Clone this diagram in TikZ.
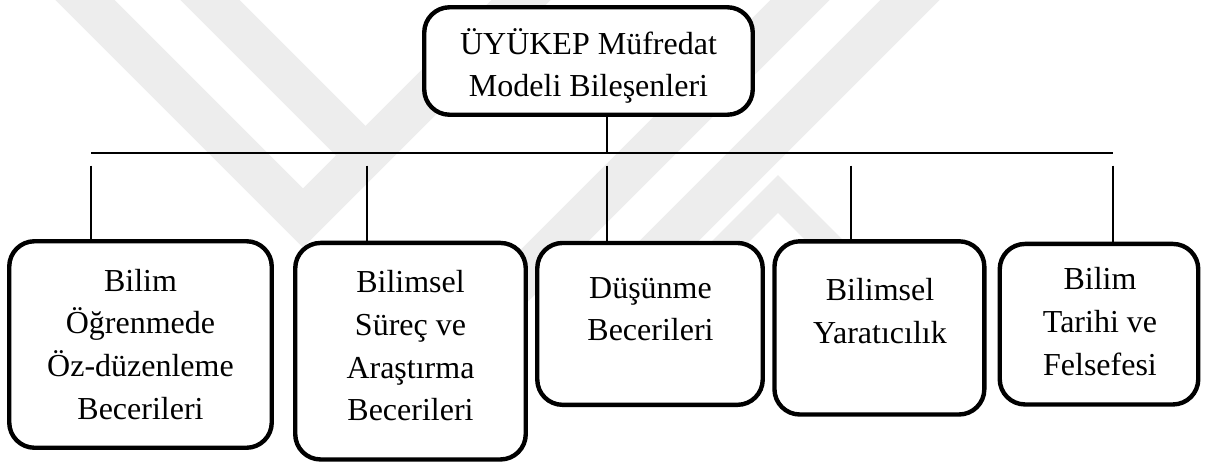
\documentclass[tikz,border=0pt]{standalone}
\usepackage{fontspec}
\setmainfont{Liberation Serif}
\begin{document}
\begin{tikzpicture}[x=0.75pt,y=-0.75pt,
  box/.style={draw=black, line width=3.3pt, rounded corners=19pt, fill=white, inner sep=0pt},
  lbl/.style={align=center, font=\fontsize{24}{32}\selectfont, inner sep=0pt, anchor=base},
  link/.style={draw=black, line width=1.3pt},
  wm/.style={draw=black!7, line width=31.5pt, line join=miter}]
\useasboundingbox (0,0) rectangle (1207,464);
% faint watermark
\draw[wm] (55,-30) -- (303,218) -- (551,-30);
\draw[wm] (180,-30) -- (365,155);
\draw[wm] (830,-30) -- (500,300);
\draw[wm] (940,-30) -- (610,300);
\draw[wm, line width=20pt] (672,300) -- (778,194) -- (884,300);
% boxes
\node[box, minimum width=246.4pt, minimum height=80.6pt] (T) at (588.5,61) {};
\node[box, minimum width=196.9pt, minimum height=154.9pt] (B1) at (140.5,344.5) {};
\node[box, minimum width=172.9pt, minimum height=162.4pt] (B2) at (410.5,351.2) {};
\node[box, minimum width=169.1pt, minimum height=121.4pt] (B3) at (650,323.9) {};
\node[box, minimum width=157.4pt, minimum height=129.9pt] (B4) at (879.4,327.9) {};
\node[box, minimum width=148.9pt, minimum height=120.4pt] (B5) at (1099,324.2) {};
% labels (anchored at the baseline of the last line)
\node[lbl] (tT) at (588.5,96.7) {ÜYÜKEP Müfredat\\Modeli Bileşenleri};
\node[lbl] (t1) at (140.5,419) {Bilim\\Öğrenmede\\Öz-düzenleme\\Becerileri};
\node[lbl] (t2) at (410.5,420.7) {Bilimsel\\Süreç ve\\Araştırma\\Becerileri};
\node[lbl] (t3) at (650.5,340.7) {Düşünme\\Becerileri};
\node[lbl] (t4) at (880,343.3) {Bilimsel\\Yaratıcılık};
\node[lbl] (t5) at (1100,375) {Bilim\\Tarihi ve\\Felsefesi};
% connectors
\coordinate (hub) at (607,152.7);
\coordinate (hl) at (91,152.7);
\coordinate (hr) at (1113,152.7);
\draw[link] (T.south -| hub) -- (hub);
\draw[link] (hl) -- (hr);
\coordinate (v1) at (91,165.7);
\coordinate (v2) at (367,165.7);
\coordinate (v3) at (607,165.7);
\coordinate (v4) at (851,165.7);
\coordinate (v5) at (1113,165.7);
\draw[link] (v1) -- (v1 |- B1.north);
\draw[link] (v2) -- (v2 |- B2.north);
\draw[link] (v3) -- (v3 |- B3.north);
\draw[link] (v4) -- (v4 |- B4.north);
\draw[link] (v5) -- (v5 |- B5.north);
\end{tikzpicture}
\end{document}
